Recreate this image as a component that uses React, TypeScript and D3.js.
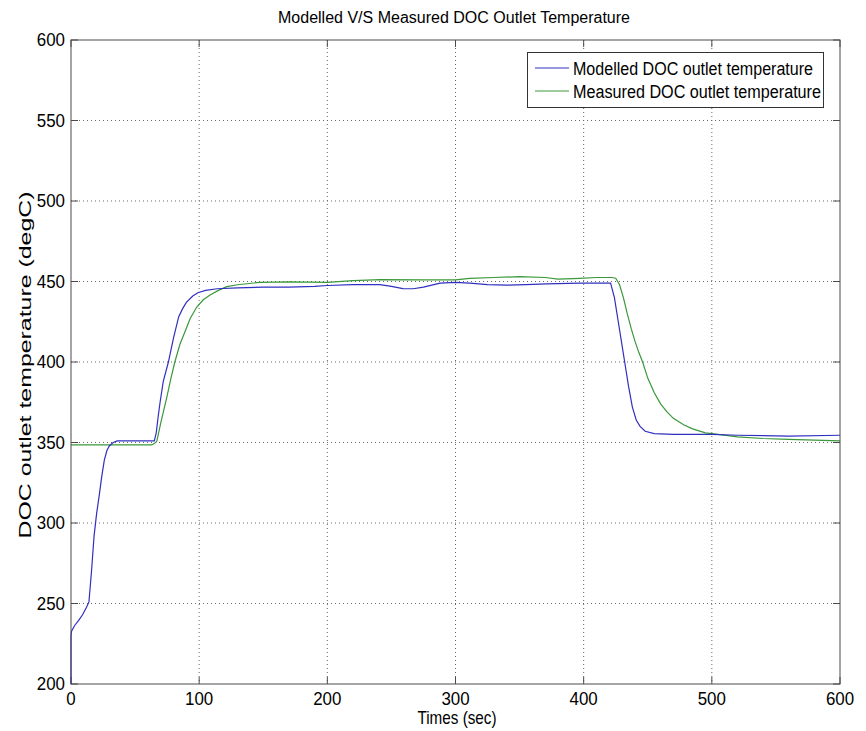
import React from "react";
import * as d3 from "d3";

const modelTime = [0, 0.01, 0.5, 3, 6, 9, 12, 14, 16, 18, 20, 22, 24, 26, 28, 30, 33, 36, 50, 65, 66.5, 68, 69.5, 72, 76, 80, 84, 87, 90, 95, 99, 105, 114, 130, 150, 170, 190, 200, 220, 241, 250, 259, 267, 275, 288, 300, 311, 325, 340, 355, 371, 397, 410, 421, 424, 427, 430, 432, 435, 438, 441, 444, 448, 455, 470, 500, 520, 560, 600];
const modelTemp = [200, 230, 233, 236.5, 239.5, 243, 247.5, 251, 270, 292, 306, 317, 329, 339, 345, 348, 350, 351, 351, 351, 356, 366, 375, 388, 400, 415, 428, 433, 437, 441, 443, 444.5, 445.5, 446, 446.5, 446.5, 447, 447.5, 448, 448, 447, 445.6, 445.5, 446.5, 449, 449.5, 449, 448, 447.7, 448, 448.5, 449, 449, 449, 440, 425, 410, 400, 385, 372, 364, 360, 357, 355.5, 355, 355, 354.5, 354, 354.5];

const measTime = [0, 30, 63, 66, 67, 70, 74.6, 78, 81, 85, 89, 93, 98, 103, 108.5, 115, 121.5, 130, 147.5, 170, 200, 220, 241, 275, 300, 311, 330, 350, 370, 380, 397, 410, 422, 425, 428, 431, 434, 437, 440, 443, 446, 450, 455, 460, 465, 470, 478, 485, 495, 505, 520, 540, 560, 580, 600];
const measTemp = [348.5, 348.5, 348.5, 350, 351, 362, 377.5, 390, 400, 411, 419, 427, 434, 438.5, 441.6, 444.5, 446.8, 448, 449.5, 449.8, 449.5, 450.5, 451.2, 451, 451, 452, 452.5, 453, 452.5, 451.5, 452, 452.5, 452.5, 452, 448, 440, 430, 421, 413, 406, 400, 390, 381, 374, 369, 365, 361, 358.5, 356, 355, 353.5, 352.5, 352, 351.5, 351];

const xTicks = [0, 100, 200, 300, 400, 500, 600];
const yTicks = [200, 250, 300, 350, 400, 450, 500, 550, 600];
const seriesNames = ["Modelled DOC outlet temperature", "Measured DOC outlet temperature"];
const titleText = "Modelled V/S Measured DOC Outlet Temperature";
const xLabel = "Times (sec)";
const yLabel = "DOC outlet temperature (degC)";

const W = 866, H = 731;
const L = 71, R = 840, T = 40, B = 684;
const BLUE = "#3030c0";
const GREEN = "#3a983a";
const FONT = "'Liberation Sans', Arial, sans-serif";

export default function App() {
  const x = d3.scaleLinear().domain([0, 600]).range([L, R]);
  const y = d3.scaleLinear().domain([200, 600]).range([B, T]);
  const line = d3.line<[number, number]>().x(d => x(d[0])).y(d => y(d[1]));
  const modelPts = modelTime.map((t, i) => [t, modelTemp[i]] as [number, number]);
  const measPts = measTime.map((t, i) => [t, measTemp[i]] as [number, number]);
  const tick = 7;
  const axisColor = "#4a4a4a";
  const digitW = 9.4;
  return (
    <svg width={W} height={H} style={{ position: "absolute", left: 0, top: 0, background: "#fff" }}>
      <rect x={0} y={0} width={W} height={H} fill="#fff" />
      {xTicks.filter(v => v > 0 && v < 600).map(v => (
        <line key={"gx" + v} x1={x(v)} x2={x(v)} y1={T} y2={B} stroke="#666" strokeWidth={1} strokeDasharray="1,3" />
      ))}
      {yTicks.filter(v => v > 200 && v < 600).map(v => (
        <line key={"gy" + v} x1={L} x2={R} y1={y(v)} y2={y(v)} stroke="#666" strokeWidth={1} strokeDasharray="1,3" />
      ))}
      {xTicks.map(v => (
        <g key={"tx" + v}>
          <line x1={x(v)} x2={x(v)} y1={B} y2={B - tick} stroke={axisColor} />
          <line x1={x(v)} x2={x(v)} y1={T} y2={T + tick} stroke={axisColor} />
          <text x={x(v)} y={B + 21} textAnchor="middle" fontFamily={FONT} fontSize={19}
            textLength={String(v).length * digitW} lengthAdjust="spacingAndGlyphs">{v}</text>
        </g>
      ))}
      {yTicks.map(v => (
        <g key={"ty" + v}>
          <line x1={L} x2={L + tick} y1={y(v)} y2={y(v)} stroke={axisColor} />
          <line x1={R} x2={R - tick} y1={y(v)} y2={y(v)} stroke={axisColor} />
          <text x={L - 6} y={y(v) + 6} textAnchor="end" fontFamily={FONT} fontSize={19}
            textLength={String(v).length * digitW} lengthAdjust="spacingAndGlyphs">{v}</text>
        </g>
      ))}
      <path d={line(measPts) || ""} fill="none" stroke={GREEN} strokeWidth={1.2} />
      <path d={line(modelPts) || ""} fill="none" stroke={BLUE} strokeWidth={1.2} />
      <rect x={L} y={T} width={R - L} height={B - T} fill="none" stroke={axisColor} strokeWidth={1} />
      <rect x={527.5} y={52.5} width={296} height={55} fill="#fff" stroke="#333" strokeWidth={1} />
      {seriesNames.map((n, i) => (
        <g key={n}>
          <line x1={535} x2={569} y1={68 + i * 23} y2={68 + i * 23} stroke={i === 0 ? BLUE : GREEN} strokeWidth={1.2} />
          <text x={573} y={68 + i * 23 + 6.5} fontFamily={FONT} fontSize={18}
            textLength={i === 0 ? 240 : 248} lengthAdjust="spacingAndGlyphs">{n}</text>
        </g>
      ))}
      <text x={454} y={23} textAnchor="middle" fontFamily={FONT} fontSize={16}
        textLength={352} lengthAdjust="spacingAndGlyphs">{titleText}</text>
      <text x={457} y={724} textAnchor="middle" fontFamily={FONT} fontSize={19}
        textLength={79} lengthAdjust="spacingAndGlyphs">{xLabel}</text>
      <text transform={`translate(31,365) rotate(-90)`} textAnchor="middle" fontFamily={FONT} fontSize={16}
        textLength={347} lengthAdjust="spacingAndGlyphs">{yLabel}</text>
    </svg>
  );
}
